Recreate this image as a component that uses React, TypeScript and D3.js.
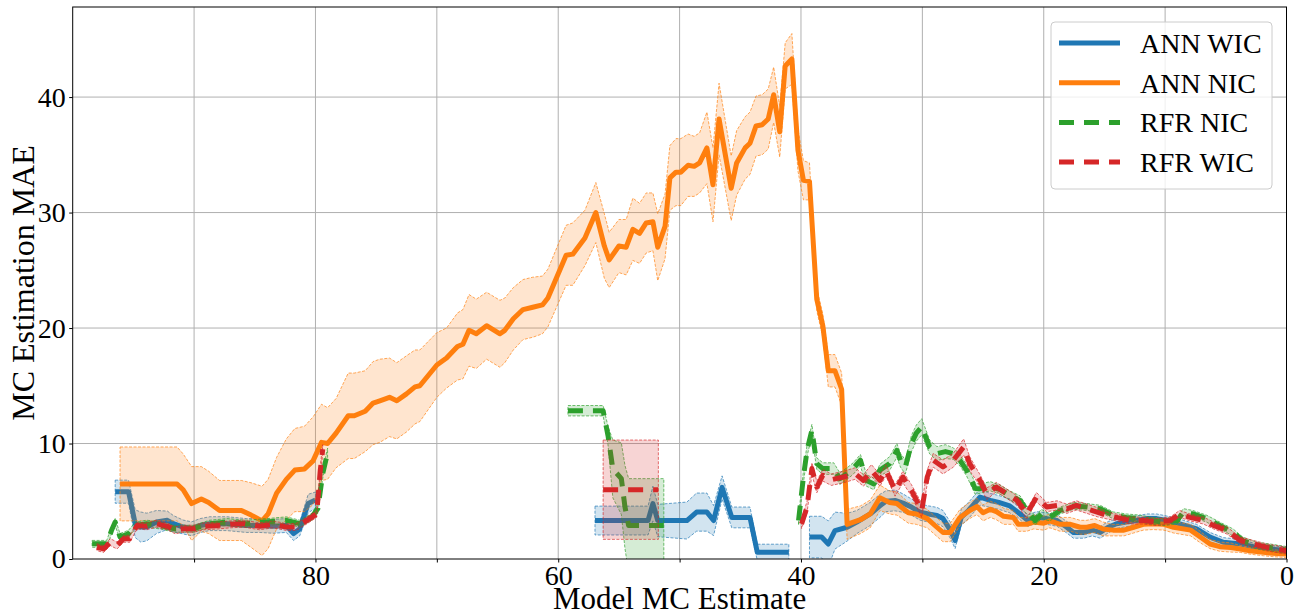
import { useEffect, useRef } from 'react';
import * as d3 from 'd3';

// x = model MC estimate, mean = MAE, std = band half width (NaN = gap)
const annWicX = [96.5, 95.4, 94.85, 94.4, 93.9, 93.1, 92.2, 91.7, 90.9, 90.2, 89.5, 88.7, 87.3, 85.7, 84.6, 83.5, 82.4, 81.8, 81.3, 80.6, 80.0, NaN,
  56.97, 54.5, 52.6, 52.2, 51.8, 49.4, 48.6, 47.75, 47.2, 46.5, 45.7, 44.2, 43.6, 41.0, NaN,
  39.3, 38.3, 37.75, 37.2, 36.2, 35.4, 34.3, 33.5, 33.0, 32.25, 31.6, 30.9, 30.2, 29.5, 28.8, 28.3, 27.7, 27.3, 26.8, 26.2, 25.25, 24.4, 23.7, 22.8, 21.95, 21.3, 20.6, 19.75, 18.9, 18.1, 17.55, 16.7, 16.0, 15.35, 14.7, 14.0, 13.2, 12.35, 11.5, 10.7, 9.9, 8.8, 7.4, 6.3, 5.2, 3.8, 2.45, 1.35, 0];
const annWicMean = [5.83, 5.83, 3.06, 2.77, 2.77, 3.2, 3.35, 3.06, 2.77, 2.62, 2.9, 3.06, 3.06, 2.9, 2.9, 2.83, 2.9, 2.2, 2.6, 4.8, 5.1, NaN,
  3.33, 3.33, 3.33, 4.8, 3.33, 3.33, 4.06, 4.06, 3.33, 6.2, 3.6, 3.6, 0.58, 0.58, NaN,
  1.9, 1.9, 1.3, 2.46, 2.75, 3.2, 3.9, 4.6, 5.0, 5.07, 4.84, 4.5, 4.06, 3.9, 3.77, 3.5, 2.5, 1.6, 3.6, 4.2, 5.36, 5.07, 4.9, 4.6, 3.9, 3.33, 3.6, 3.5, 3.33, 2.75, 2.3, 2.3, 2.5, 2.3, 2.75, 3.05, 3.2, 3.33, 3.5, 3.5, 3.33, 3.05, 2.6, 1.9, 1.45, 1.3, 1.0, 0.87, 0.72];
const annWicStd = [1.0, 1.0, 1.2, 1.3, 1.2, 1.0, 0.8, 0.7, 0.6, 0.6, 0.6, 0.6, 0.6, 0.6, 0.6, 0.6, 0.6, 0.6, 0.6, 0.8, 0.7, NaN,
  1.25, 1.25, 1.25, 1.5, 1.4, 1.6, 1.65, 1.65, 1.3, 1.0, 0.9, 0.9, 0.7, 0.7, NaN,
  1.8, 1.8, 2.0, 1.6, 1.2, 1.0, 1.0, 1.0, 0.9, 0.9, 0.8, 0.7, 0.7, 0.7, 0.7, 0.7, 0.7, 0.7, 0.7, 0.7, 0.7, 0.6, 0.6, 0.6, 0.5, 0.5, 0.5, 0.5, 0.5, 0.5, 0.5, 0.5, 0.5, 0.5, 0.5, 0.4, 0.4, 0.4, 0.4, 0.4, 0.4, 0.4, 0.4, 0.4, 0.4, 0.4, 0.3, 0.3, 0.3];

const annNicX = [96.1, 91.4, 90.9, 90.2, 89.4, 88.8, 87.9, 86.1, 85.3, 84.4, 83.9, 83.2, 82.4, 81.7, 80.9, 80.2, 79.5, 79.0, 78.3, 77.3, 76.8, 75.9, 75.25, 74.7, 73.9, 73.3, 72.5, 71.8, 71.4, 70.0, 69.2, 68.3, 67.85, 67.35, 66.75, 65.9, 64.8, 64.4, 63.7, 62.9, 62.1, 61.3, 60.85, 59.35, 58.8, 57.8, 56.9, 56.2, 55.8, 55.0, 54.4, 53.85, 53.3, 52.75, 52.2, 51.8, 51.2, 50.8, 50.3, 49.9, 49.3, 48.8, 48.35, 47.75, 47.25, 46.75, 45.75, 45.3, 44.6, 44.2, 43.7, 43.2, 42.7, 42.25, 41.75, 41.3, 40.75, 40.25, 39.8, 39.3, 38.7, 38.2, 37.75, 37.2, 36.65, 36.2, 35.1, 34.3, 33.5, 32.7, 32.1, 31.15, 30.5, 29.6, 28.8, 28.3, 27.7, 26.9, 26.5, 26.1, 25.5, 25.0, 24.4, 23.9, 23.3, 22.5, 22.1, 21.4, 20.85, 20.0, 19.5, 18.65, 17.8, 17.0, 16.45, 15.8, 15.1, 14.3, 13.4, 12.6, 11.8, 11.0, 10.1, 9.3, 7.9, 7.1, 6.3, 5.5, 4.6, 3.8, 3.0, 1.9, 1.1, 0];
const annNicMean = [6.5, 6.5, 6.0, 4.8, 5.2, 4.9, 4.2, 4.2, 3.8, 3.3, 3.9, 5.7, 6.9, 7.7, 7.8, 8.5, 10.1, 10.0, 10.9, 12.4, 12.4, 12.8, 13.5, 13.7, 14.0, 13.7, 14.3, 14.9, 15.0, 16.8, 17.4, 18.4, 18.6, 19.8, 19.5, 20.2, 19.5, 19.8, 20.8, 21.6, 21.8, 22.0, 22.6, 26.3, 26.4, 27.8, 30.0, 27.1, 25.9, 27.1, 27.0, 28.55, 28.2, 29.1, 29.2, 27.0, 28.8, 33.0, 33.5, 33.5, 34.1, 34.0, 34.3, 35.6, 32.4, 38.1, 32.1, 34.3, 35.6, 36.0, 37.5, 37.6, 38.1, 40.2, 37.0, 42.7, 43.3, 35.4, 32.8, 32.7, 22.5, 20.2, 16.3, 16.3, 14.7, 3.0, 3.4, 3.9, 5.3, 4.9, 4.8, 4.0, 3.9, 3.5, 2.75, 2.3, 2.3, 3.6, 3.9, 4.2, 4.55, 4.0, 4.3, 4.1, 3.7, 3.6, 3.0, 3.0, 3.2, 3.1, 3.3, 3.0, 3.0, 2.75, 2.75, 2.9, 2.6, 2.5, 2.5, 2.75, 3.0, 3.05, 3.0, 2.75, 2.5, 1.9, 1.3, 1.07, 1.0, 0.87, 0.72, 0.58, 0.5, 0.43];
const annNicStd = [3.2, 3.2, 3.1, 3.2, 2.8, 2.7, 2.6, 2.6, 2.8, 3.0, 3.0, 3.1, 3.5, 3.6, 3.7, 3.8, 3.3, 3.1, 3.0, 3.7, 3.7, 3.5, 3.6, 3.6, 3.4, 3.3, 3.3, 3.2, 3.1, 2.8, 2.6, 2.9, 3.0, 3.1, 3.0, 2.9, 2.9, 2.8, 2.7, 2.6, 2.6, 2.5, 2.5, 2.6, 2.7, 2.4, 2.6, 2.8, 2.4, 2.3, 2.4, 2.7, 2.6, 2.6, 2.5, 2.9, 2.8, 2.8, 2.9, 2.9, 2.7, 2.6, 2.6, 3.1, 3.2, 3.1, 2.8, 2.8, 2.7, 2.7, 2.6, 2.6, 2.6, 2.4, 2.2, 2.0, 2.2, 1.8, 1.7, 1.6, 1.0, 1.0, 1.4, 1.4, 1.4, 1.3, 1.2, 1.2, 1.1, 1.0, 1.0, 0.9, 0.9, 0.8, 0.8, 0.8, 0.8, 0.7, 0.7, 0.7, 0.7, 0.7, 0.7, 0.7, 0.7, 0.6, 0.6, 0.6, 0.6, 0.6, 0.6, 0.6, 0.6, 0.6, 0.6, 0.6, 0.6, 0.5, 0.5, 0.5, 0.5, 0.5, 0.5, 0.5, 0.5, 0.5, 0.4, 0.4, 0.4, 0.3, 0.3, 0.3, 0.3, 0.3];

const rfrNicX = [98.4, 97.2, 96.8, 96.5, 96.1, 95.4, 94.85, 93.9, 92.8, 91.6, 90.05, 88.7, 87.3, 85.7, 84.0, 82.4, 81.3, 80.3, 79.8, 79.4, 79.0, NaN,
  59.2, 56.3, 55.9, 55.5, 54.8, 54.5, 54.2, 51.3, NaN,
  40.2, 39.8, 39.5, 39.1, 38.7, 38.2, 37.3, 36.8, 36.2, 35.7, 35.1, 34.6, 34.0, 33.5, 32.7, 32.1, 31.8, 31.4, 30.9, 30.5, 30.05, 29.4, 28.8, 28.1, 27.45, 26.9, 26.35, 25.65, 25.25, 24.4, 23.6, 22.8, 21.95, 21.3, 20.7, 20.2, 19.5, 18.65, 17.55, 16.45, 15.35, 14.25, 13.2, 12.05, 11.25, 10.1, 9.0, 8.5, 7.7, 6.6, 5.5, 4.4, 3.6, 2.45, 1.35, 0];
const rfrNicMean = [1.31, 1.31, 2.48, 3.2, 1.9, 2.19, 2.9, 3.06, 2.9, 2.62, 2.62, 3.06, 3.2, 3.06, 3.2, 3.35, 3.06, 3.65, 4.37, 7.4, 9.2, NaN,
  12.84, 12.84, 10.7, 7.8, 6.96, 4.5, 2.9, 2.9, NaN,
  3.33, 7.1, 9.4, 11.16, 8.26, 7.83, 7.83, 6.96, 7.4, 7.83, 8.55, 6.8, 6.5, 7.7, 8.26, 9.4, 8.55, 7.97, 10.0, 10.9, 11.45, 9.7, 9.13, 9.3, 9.13, 8.55, 7.68, 6.1, 6.09, 6.3, 6.0, 5.5, 5.07, 4.06, 3.33, 3.9, 3.6, 4.2, 4.6, 4.5, 4.35, 3.77, 3.6, 3.5, 3.33, 3.2, 3.33, 4.06, 3.9, 3.5, 2.9, 2.3, 1.6, 1.16, 1.0, 0.78];
const rfrNicStd = [0.3, 0.3, 0.3, 0.3, 0.3, 0.3, 0.3, 0.3, 0.3, 0.3, 0.3, 0.3, 0.3, 0.3, 0.3, 0.3, 0.3, 0.3, 0.4, 0.4, 0.4, NaN,
  0.45, 0.45, 0.8, 2.5, 3.1, 3.6, 4.06, 4.06, NaN,
  0.4, 0.5, 0.5, 0.5, 0.5, 0.5, 0.5, 0.5, 0.5, 0.5, 0.5, 0.5, 0.5, 0.5, 0.6, 0.6, 0.6, 0.6, 0.7, 0.7, 0.7, 0.6, 0.6, 0.6, 0.5, 0.5, 0.5, 0.5, 0.4, 0.4, 0.4, 0.4, 0.4, 0.4, 0.4, 0.4, 0.3, 0.3, 0.3, 0.3, 0.3, 0.3, 0.3, 0.3, 0.3, 0.3, 0.3, 0.3, 0.3, 0.3, 0.3, 0.3, 0.3, 0.3, 0.3, 0.3];

const rfrWicX = [98.0, 97.45, 96.9, 96.35, 95.8, 95.3, 94.7, 93.9, 93.1, 92.2, 91.55, 90.9, 90.05, 89.2, 88.1, 87.0, 85.9, 84.6, 83.5, 82.4, 81.6, 80.7, 79.9, 79.6, 79.4, NaN,
  56.3, 51.75, NaN,
  39.95, 39.5, 39.1, 38.7, 38.2, 37.5, 36.5, 35.55, 34.85, 34.2, 33.5, 33.0, 32.25, 31.6, 30.9, 30.05, 29.6, 29.1, 28.3, 27.45, 26.6, 26.1, 25.25, 24.7, 23.9, 23.05, 22.2, 21.4, 20.6, 19.75, 18.9, 18.1, 17.3, 16.45, 15.6, 14.8, 14.0, 12.9, 11.8, 10.7, 9.6, 8.8, 7.95, 6.85, 6.0, 4.9, 3.8, 2.7, 1.6, 0];
const rfrWicMean = [1.02, 0.87, 1.46, 1.17, 1.75, 1.75, 2.9, 2.83, 3.06, 2.83, 2.48, 2.62, 2.62, 2.83, 2.9, 3.0, 3.06, 2.83, 3.0, 2.77, 2.77, 3.35, 3.9, 7.7, 9.5, NaN,
  6.0, 6.0, NaN,
  3.04, 4.5, 7.83, 6.23, 7.25, 6.87, 7.1, 7.4, 6.8, 7.68, 6.8, 7.68, 5.94, 7.1, 5.94, 4.2, 7.1, 8.55, 7.97, 8.55, 9.7, 8.26, 6.8, 5.65, 6.23, 5.65, 5.07, 3.9, 5.36, 4.5, 4.64, 4.35, 4.64, 4.35, 4.06, 3.77, 3.6, 3.33, 3.33, 3.2, 3.33, 3.9, 3.6, 3.33, 2.9, 2.46, 1.6, 1.3, 1.0, 0.72];
const rfrWicStd = [0.3, 0.3, 0.3, 0.3, 0.3, 0.3, 0.3, 0.3, 0.3, 0.3, 0.3, 0.3, 0.3, 0.3, 0.3, 0.3, 0.3, 0.3, 0.3, 0.3, 0.3, 0.3, 0.3, 0.4, 0.4, NaN,
  4.3, 4.3, NaN,
  0.4, 0.5, 0.5, 0.5, 0.5, 0.5, 0.5, 0.5, 0.5, 0.5, 0.5, 0.5, 0.5, 0.5, 0.5, 0.6, 0.6, 0.6, 0.6, 0.6, 0.7, 0.6, 0.5, 0.5, 0.4, 0.4, 0.4, 0.4, 0.4, 0.4, 0.4, 0.4, 0.4, 0.4, 0.4, 0.3, 0.3, 0.3, 0.3, 0.3, 0.3, 0.3, 0.3, 0.3, 0.3, 0.3, 0.3, 0.3, 0.3, 0.3];

const xTicks = [90, 80, 70, 60, 50, 40, 30, 20, 10, 0];
const xTickLabels = [80, 60, 40, 20, 0];
const yTicks = [0, 10, 20, 30, 40];

const series = [
  { name: 'ANN WIC', color: '#1f77b4', dashed: false, x: annWicX, mean: annWicMean, std: annWicStd },
  { name: 'ANN NIC', color: '#ff7f0e', dashed: false, x: annNicX, mean: annNicMean, std: annNicStd },
  { name: 'RFR NIC', color: '#2ca02c', dashed: true, x: rfrNicX, mean: rfrNicMean, std: rfrNicStd },
  { name: 'RFR WIC', color: '#d62728', dashed: true, x: rfrWicX, mean: rfrWicMean, std: rfrWicStd },
];

function App() {
  const svgRef = useRef(null);

  const width = 1295,
    height = 616;
  const left = 72.7,
    right = 1286.5,
    top = 7,
    bottom = 559;

  useEffect(() => {
    const font = "'Liberation Serif', 'Times New Roman', serif";
    const svg = d3.select(svgRef.current);
    svg.selectAll('*').remove();

    const x = d3.scaleLinear().domain([100, 0]).range([left, right]);
    const y = d3.scaleLinear().domain([0, 47.8]).range([bottom, top]);

    svg
      .append('defs')
      .append('clipPath')
      .attr('id', 'plot-clip')
      .append('rect')
      .attr('x', left)
      .attr('y', top)
      .attr('width', right - left)
      .attr('height', bottom - top);

    // grid
    const grid = svg.append('g');
    grid
      .selectAll('line.vx')
      .data(xTicks.filter((d) => d > 0))
      .join('line')
      .attr('x1', (d) => x(d))
      .attr('x2', (d) => x(d))
      .attr('y1', top)
      .attr('y2', bottom)
      .attr('stroke', '#b0b0b0')
      .attr('stroke-width', 1);
    grid
      .selectAll('line.hy')
      .data(yTicks.filter((d) => d > 0))
      .join('line')
      .attr('x1', left)
      .attr('x2', right)
      .attr('y1', (d) => y(d))
      .attr('y2', (d) => y(d))
      .attr('stroke', '#b0b0b0')
      .attr('stroke-width', 1);

    const plot = svg.append('g').attr('clip-path', 'url(#plot-clip)');

    series.forEach((s) => {
      const data = s.x.map((v, i) => ({ x: v, m: s.mean[i], s: s.std[i] }));
      const defined = (d) => !isNaN(d.x) && !isNaN(d.m);
      const area = d3
        .area()
        .defined(defined)
        .x((d) => x(d.x))
        .y0((d) => y(d.m - d.s))
        .y1((d) => y(d.m + d.s));
      plot
        .append('path')
        .attr('d', area(data))
        .attr('fill', s.color)
        .attr('fill-opacity', 0.2)
        .attr('stroke', s.color)
        .attr('stroke-opacity', 0.85)
        .attr('stroke-width', 0.8)
        .attr('stroke-dasharray', '3,1.5');

      const line = d3
        .line()
        .defined(defined)
        .x((d) => x(d.x))
        .y((d) => y(d.m));
      plot
        .append('path')
        .attr('d', line(data))
        .attr('fill', 'none')
        .attr('stroke', s.color)
        .attr('stroke-width', 5)
        .attr('stroke-linejoin', 'round')
        .attr('stroke-dasharray', s.dashed ? '15,10' : null);
    });

    // axes
    const xAxis = svg
      .append('g')
      .attr('transform', `translate(0,${bottom})`)
      .call(
        d3
          .axisBottom(x)
          .tickValues(xTicks)
          .tickSize(3.5)
          .tickSizeOuter(0)
          .tickPadding(3)
          .tickFormat((d) => (xTickLabels.includes(d) ? String(d) : '')),
      );
    const yAxis = svg
      .append('g')
      .attr('transform', `translate(${left},0)`)
      .call(d3.axisLeft(y).tickValues(yTicks).tickSize(3.5).tickSizeOuter(0).tickPadding(3.5));

    [xAxis, yAxis].forEach((g) => {
      g.select('.domain').remove();
      g.selectAll('.tick line').attr('stroke', '#000').attr('stroke-width', 1);
      g.selectAll('.tick text').attr('fill', '#000').style('font-family', font).style('font-size', '28px');
    });

    svg
      .append('rect')
      .attr('x', left)
      .attr('y', top)
      .attr('width', right - left)
      .attr('height', bottom - top)
      .attr('fill', 'none')
      .attr('stroke', '#000')
      .attr('stroke-width', 1);

    svg
      .append('text')
      .text('Model MC Estimate')
      .attr('x', (left + right) / 2)
      .attr('y', 609)
      .attr('text-anchor', 'middle')
      .style('font-family', font)
      .style('font-size', '31px');

    svg
      .append('text')
      .text('MC Estimation MAE')
      .attr('transform', `translate(34,${(top + bottom) / 2}) rotate(-90)`)
      .attr('text-anchor', 'middle')
      .style('font-family', font)
      .style('font-size', '32px');

    // legend
    const legend = svg.append('g');
    legend
      .append('rect')
      .attr('x', 1051)
      .attr('y', 22)
      .attr('width', 221)
      .attr('height', 167)
      .attr('rx', 4)
      .attr('fill', '#fff')
      .attr('fill-opacity', 0.8)
      .attr('stroke', '#cccccc')
      .attr('stroke-width', 1);
    series.forEach((s, i) => {
      const cy = 43 + i * 39.7;
      legend
        .append('line')
        .attr('x1', 1059)
        .attr('x2', 1120)
        .attr('y1', cy)
        .attr('y2', cy)
        .attr('stroke', s.color)
        .attr('stroke-width', 5)
        .attr('stroke-dasharray', s.dashed ? '15,10' : null);
      legend
        .append('text')
        .text(s.name)
        .attr('x', 1140)
        .attr('y', cy)
        .attr('dy', '0.35em')
        .style('font-family', font)
        .style('font-size', '28px');
    });
  }, []);

  return (
    <svg
      ref={svgRef}
      width={width}
      height={height}
      viewBox={`0 0 ${width} ${height}`}
      style={{ position: 'absolute', left: 0, top: 0, background: '#fff' }}
    ></svg>
  );
}

export default App;
